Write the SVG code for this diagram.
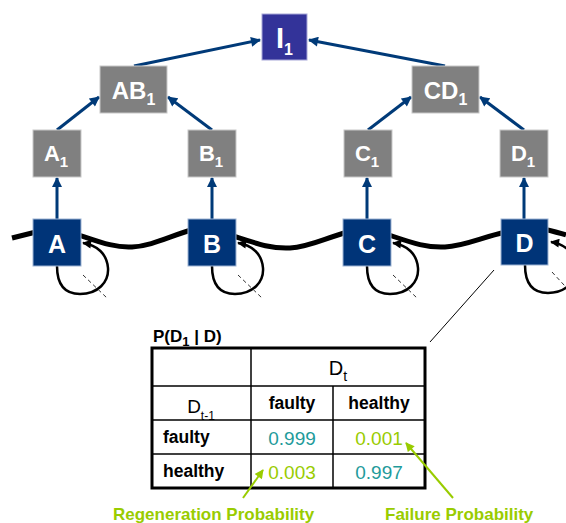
<svg xmlns="http://www.w3.org/2000/svg" width="566" height="523" viewBox="0 0 566 523">
  <style>
    .blue { fill: #003478; stroke: #9db3d3; stroke-width: 1; }
    .gray { fill: #808080; stroke: #c8c8c8; stroke-width: 1; }
    .top  { fill: #333399; stroke: #a8a8d8; stroke-width: 1; }
    .lbl  { font-family: "Liberation Sans", Arial, sans-serif; font-weight: bold; fill: #ffffff; text-anchor: middle; }
    .edge { stroke: #003a78; stroke-width: 3; fill: none; marker-end: url(#navy); }
    .chain { stroke: #000000; stroke-width: 5; fill: none; }
    .loop { stroke: #000000; stroke-width: 2.5; fill: none; marker-end: url(#blk); }
    .dash { stroke: #333333; stroke-width: 1; stroke-dasharray: 4 3; fill: none; }
    .tbl  { font-family: "Liberation Sans", Arial, sans-serif; fill: #000000; }
    .b    { font-weight: bold; }
    .teal { fill: #1f9b9b; }
    .lime { fill: #99cc00; }
    .green-arrow { stroke: #99cc00; stroke-width: 2; fill: none; marker-end: url(#lime); }
    .grid { stroke: #000000; stroke-width: 1.5; }
  </style>
  <defs>
    <marker id="navy" viewBox="0 0 10 10" refX="9" refY="5" markerWidth="11" markerHeight="10" markerUnits="userSpaceOnUse" orient="auto">
      <path d="M0,0 L10,5 L0,10 z" fill="#003a78"/>
    </marker>
    <marker id="blk" viewBox="0 0 10 10" refX="9" refY="5" markerWidth="10" markerHeight="9" markerUnits="userSpaceOnUse" orient="auto">
      <path d="M0,0 L10,5 L0,10 z" fill="#000000"/>
    </marker>
    <marker id="lime" viewBox="0 0 10 10" refX="9" refY="5" markerWidth="10" markerHeight="9" markerUnits="userSpaceOnUse" orient="auto">
      <path d="M0,0 L10,5 L0,10 z" fill="#99cc00"/>
    </marker>
  </defs>

  <!-- temporal chain behind the component nodes -->
  <g id="chain">
    <path class="chain" d="M12,238 C20,236 28,234 40,231"/>
    <path class="chain" d="M76,234 C100,242 115,248 132,247 C152,246 170,236 194,229"/>
    <path class="chain" d="M230,235 C255,243 270,249 290,248 C310,247 325,238 348,232"/>
    <path class="chain" d="M386,234 C410,242 425,248 445,247 C465,246 482,237 506,232"/>
    <path class="chain" d="M543,229 C552,231 560,233 566,235"/>
  </g>

  <!-- conditional probability table for D -->
  <g id="cpt">
    <text class="tbl b" x="153" y="342" font-size="17">P(D<tspan font-size="13" dy="4">1</tspan><tspan dy="-4"> | D)</tspan></text>
    <rect x="152" y="348" width="273" height="140" fill="none" stroke="#000000" stroke-width="3"/>
    <line class="grid" x1="251" y1="348" x2="251" y2="488"/>
    <line class="grid" x1="333" y1="386" x2="333" y2="488"/>
    <line class="grid" x1="152" y1="386" x2="425" y2="386"/>
    <line class="grid" x1="152" y1="420" x2="425" y2="420"/>
    <line class="grid" x1="152" y1="454" x2="425" y2="454"/>
    <text class="tbl" x="338" y="375" font-size="20" text-anchor="middle">D<tspan font-size="14" dy="6">t</tspan></text>
    <text class="tbl" x="201" y="413" font-size="19" text-anchor="middle">D<tspan font-size="12" dy="7">t-1</tspan></text>
    <text class="tbl b" x="292" y="409" font-size="17.5" text-anchor="middle">faulty</text>
    <text class="tbl b" x="379" y="409" font-size="17.5" text-anchor="middle">healthy</text>
    <text class="tbl b" x="163" y="443" font-size="17.5">faulty</text>
    <text class="tbl b" x="163" y="477" font-size="17.5">healthy</text>
    <text class="tbl teal" x="292" y="445" font-size="19" text-anchor="middle">0.999</text>
    <text class="tbl lime" x="379" y="445" font-size="19" text-anchor="middle">0.001</text>
    <text class="tbl lime" x="292" y="479" font-size="19" text-anchor="middle">0.003</text>
    <text class="tbl teal" x="379" y="479" font-size="19" text-anchor="middle">0.997</text>
  </g>

  <g id="connectors">
    <!-- hierarchy edges -->
    <line class="edge" x1="134" y1="66" x2="260" y2="40"/>
    <line class="edge" x1="445" y1="66" x2="309" y2="40"/>
    <line class="edge" x1="57" y1="130" x2="99" y2="97"/>
    <line class="edge" x1="212" y1="130" x2="168" y2="97"/>
    <line class="edge" x1="368" y1="130" x2="411" y2="97"/>
    <line class="edge" x1="524" y1="130" x2="480" y2="97"/>
    <line class="edge" x1="57" y1="219" x2="57" y2="178"/>
    <line class="edge" x1="212" y1="219" x2="212" y2="178"/>
    <line class="edge" x1="367" y1="219" x2="367" y2="178"/>
    <line class="edge" x1="524" y1="219" x2="524" y2="178"/>
    <!-- self transitions -->
    <path class="loop" d="M57,266 C57,284 64,294 80,294 C98,294 109,282 108,268 C107,254 97,245 83,243"/>
    <path class="loop" d="M212,266 C212,284 219,294 235,294 C253,294 264,282 263,268 C262,254 252,245 238,243"/>
    <path class="loop" d="M367,266 C367,284 374,294 390,294 C408,294 419,282 418,268 C417,254 407,245 393,243"/>
    <path class="loop" d="M525,265 C525,283 532,293 548,293 C566,293 577,281 576,267 C575,253 565,244 551,242"/>
    <line class="dash" x1="83" y1="275" x2="107" y2="298"/>
    <line class="dash" x1="238" y1="275" x2="262" y2="298"/>
    <line class="dash" x1="393" y1="275" x2="417" y2="298"/>
    <line class="dash" x1="552" y1="272" x2="576" y2="298"/>
    <!-- callout from D to its table -->
    <line x1="494" y1="270" x2="430" y2="342" stroke="#000000" stroke-width="1"/>
    <!-- probability callouts -->
    <line class="green-arrow" x1="243" y1="498" x2="263" y2="470"/>
    <line class="green-arrow" x1="453" y1="498" x2="406" y2="443"/>
  </g>

  <g id="I1">
    <rect class="top" x="262" y="14" width="45" height="46"/>
    <text class="lbl" x="284.5" y="48" font-size="29">I<tspan font-size="16" dy="7">1</tspan></text>
  </g>
  <g id="AB1">
    <rect class="gray" x="100" y="66" width="67" height="47"/>
    <text class="lbl" x="133.5" y="99" font-size="24">AB<tspan font-size="16" dy="6">1</tspan></text>
  </g>
  <g id="CD1">
    <rect class="gray" x="412" y="66" width="67" height="47"/>
    <text class="lbl" x="445.5" y="99" font-size="24">CD<tspan font-size="16" dy="6">1</tspan></text>
  </g>
  <g id="A1">
    <rect class="gray" x="33" y="130" width="48" height="47"/>
    <text class="lbl" x="56" y="161" font-size="22">A<tspan font-size="15" dy="6">1</tspan></text>
  </g>
  <g id="B1">
    <rect class="gray" x="188" y="130" width="48" height="47"/>
    <text class="lbl" x="211" y="161" font-size="22">B<tspan font-size="15" dy="6">1</tspan></text>
  </g>
  <g id="C1">
    <rect class="gray" x="344" y="130" width="48" height="47"/>
    <text class="lbl" x="367" y="161" font-size="22">C<tspan font-size="15" dy="6">1</tspan></text>
  </g>
  <g id="D1">
    <rect class="gray" x="500" y="130" width="48" height="47"/>
    <text class="lbl" x="523" y="161" font-size="22">D<tspan font-size="15" dy="6">1</tspan></text>
  </g>
  <g id="A">
    <rect class="blue" x="33" y="219" width="48" height="47"/>
    <text class="lbl" x="57" y="253" font-size="25">A</text>
  </g>
  <g id="B">
    <rect class="blue" x="188" y="219" width="48" height="47"/>
    <text class="lbl" x="212" y="253" font-size="25">B</text>
  </g>
  <g id="C">
    <rect class="blue" x="343" y="219" width="48" height="47"/>
    <text class="lbl" x="367" y="253" font-size="25">C</text>
  </g>
  <g id="D">
    <rect class="blue" x="501" y="219" width="47" height="46"/>
    <text class="lbl" x="524.5" y="252" font-size="25">D</text>
  </g>

  <text class="tbl b lime" x="113" y="520" font-size="17">Regeneration Probability</text>
  <text class="tbl b lime" x="385" y="520" font-size="17">Failure Probability</text>
</svg>
